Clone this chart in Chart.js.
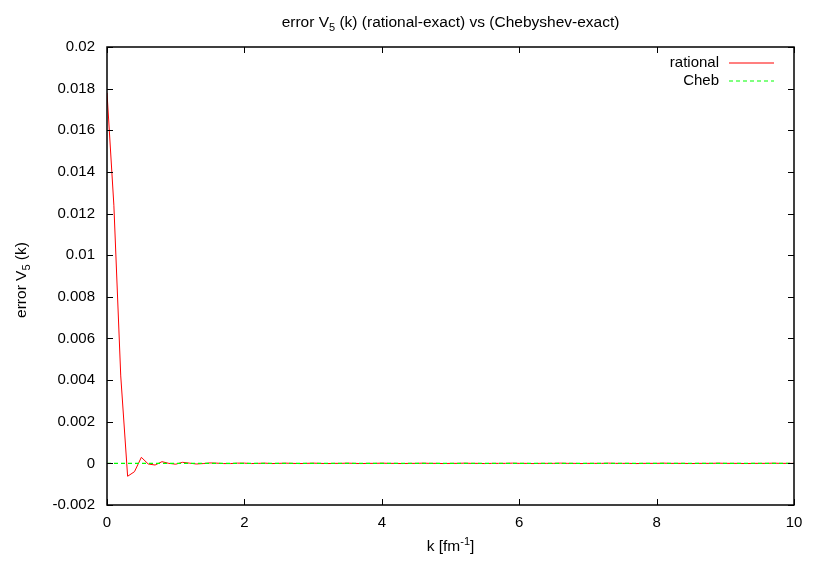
<!DOCTYPE html>
<html>
<head>
<meta charset="utf-8">
<title>error V5 (k)</title>
<script src="https://cdn.jsdelivr.net/npm/chart.js@4.4.1/dist/chart.umd.min.js"></script>
<style>
    html, body { margin: 0; padding: 0; background: #fff; }
    #wrap { width: 817px; height: 572px; position: relative; }
</style>
</head>
<body>
<div id="wrap"><canvas id="err-chart"></canvas></div>
<script>
// k grid of the rational curve (fm^-1)
const kValues = [
    0.0, 0.1, 0.2, 0.3, 0.4, 0.5, 0.6, 0.7, 0.8, 0.9,
    1.0, 1.1, 1.2, 1.3, 1.4, 1.5, 1.6, 1.7, 1.8, 1.9,
    2.0, 2.1, 2.2, 2.3, 2.4, 2.5, 2.6, 2.7, 2.8, 2.9,
    3.0, 3.1, 3.2, 3.3, 3.4, 3.5, 3.6, 3.7, 3.8, 3.9,
    4.0, 4.1, 4.2, 4.3, 4.4, 4.5, 4.6, 4.7, 4.8, 4.9,
    5.0, 5.1, 5.2, 5.3, 5.4, 5.5, 5.6, 5.7, 5.8, 5.9,
    6.0, 6.1, 6.2, 6.3, 6.4, 6.5, 6.6, 6.7, 6.8, 6.9,
    7.0, 7.1, 7.2, 7.3, 7.4, 7.5, 7.6, 7.7, 7.8, 7.9,
    8.0, 8.1, 8.2, 8.3, 8.4, 8.5, 8.6, 8.7, 8.8, 8.9,
    9.0, 9.1, 9.2, 9.3, 9.4, 9.5, 9.6, 9.7, 9.8, 9.9,
    10.0
];

// rational - exact
const rationalErr = [
    0.0178, 0.0124, 0.0042, -0.00062, -0.00040, 0.00029, -0.00003, -0.00008, 0.00008, 0.00000,
    -0.00004, 0.00005, 0.00001, -0.00003, -0.00001, 0.00002, 0.00001, -0.00001, -0.00001, 0.00001,
    0.00001, -0.00001, 0.00000, 0.00001, -0.00001, 0.00000, 0.00001, 0.00000, -0.00001, 0.00000,
    0.00001, 0.00000, -0.00001, 0.00000, 0.00000, 0.00001, 0.00000, -0.00001, 0.00000, 0.00000,
    0.00001, 0.00000, 0.00000, -0.00001, 0.00000, 0.00000, 0.00001, 0.00000, 0.00000, -0.00001,
    0.00000, 0.00000, 0.00001, 0.00000, 0.00000, -0.00001, 0.00000, 0.00000, 0.00000, 0.00001,
    0.00000, 0.00000, -0.00001, 0.00000, 0.00000, 0.00000, 0.00001, 0.00000, 0.00000, -0.00001,
    0.00000, 0.00000, 0.00000, 0.00001, 0.00000, 0.00000, 0.00000, -0.00001, 0.00000, 0.00000,
    0.00000, 0.00001, 0.00000, 0.00000, 0.00000, -0.00001, 0.00000, 0.00000, 0.00000, 0.00001,
    0.00000, 0.00000, 0.00000, -0.00001, 0.00000, 0.00000, 0.00000, 0.00001, 0.00000, 0.00000,
    0.00000
];

// Chebyshev - exact (flat at zero on this scale)
const chebK = [0.0, 0.5, 1.0, 1.5, 2.0, 2.5, 3.0, 3.5, 4.0, 4.5, 5.0,
               5.5, 6.0, 6.5, 7.0, 7.5, 8.0, 8.5, 9.0, 9.5, 10.0];
const chebErr = [0, 0, 0, 0, 0, 0, 0, 0, 0, 0, 0,
                 0, 0, 0, 0, 0, 0, 0, 0, 0, 0];

const xTicks = [0, 2, 4, 6, 8, 10];
const yTicks = [-0.002, 0, 0.002, 0.004, 0.006, 0.008, 0.01, 0.012, 0.014, 0.016, 0.018, 0.02];

const RED = '#ff0000';
const GREEN = '#00ff00';
const FONT = '"Liberation Sans", Arial, Helvetica, sans-serif';
const TEXT_SIZE = 15.5;

function toPoints(xs, ys) {
    return xs.map((x, i) => ({ x: x, y: ys[i] }));
}

// 画带上下标的文字
function partFont(p) {
    return (p.sub || p.sup ? 11 : TEXT_SIZE) + 'px ' + FONT;
}

function richWidth(ctx, parts) {
    let w = 0;
    parts.forEach(p => {
        ctx.font = partFont(p);
        w += ctx.measureText(p.t).width;
    });
    return w;
}

function drawRich(ctx, parts, cx, cy) {
    let x = cx - richWidth(ctx, parts) / 2;
    ctx.textAlign = 'left';
    ctx.textBaseline = 'middle';
    parts.forEach(p => {
        ctx.font = partFont(p);
        const dy = p.sub ? 5 : (p.sup ? -5 : 0);
        ctx.fillText(p.t, x, cy + dy);
        x += ctx.measureText(p.t).width;
    });
}

// 图例条目（gnuplot 风格：文字在左，线段在右）
const legendItems = [
    { label: 'rational', color: RED, dash: [] },
    { label: 'Cheb', color: GREEN, dash: [4, 3] }
];

// gnuplot 风格：边框、内刻度、图例、标题
const gnuplotFrame = {
    id: 'gnuplotFrame',
    afterDatasetsDraw(chart) {
        const { ctx, chartArea: a, scales } = chart;
        ctx.save();
        ctx.strokeStyle = '#000';
        ctx.lineWidth = 1;
        ctx.beginPath();
        scales.x.ticks.forEach(t => {
            const px = Math.round(scales.x.getPixelForValue(t.value)) + 0.5;
            ctx.moveTo(px, a.bottom); ctx.lineTo(px, a.bottom - 6);
            ctx.moveTo(px, a.top); ctx.lineTo(px, a.top + 6);
        });
        scales.y.ticks.forEach(t => {
            const py = Math.round(scales.y.getPixelForValue(t.value)) + 0.5;
            ctx.moveTo(a.left, py); ctx.lineTo(a.left + 6, py);
            ctx.moveTo(a.right, py); ctx.lineTo(a.right - 6, py);
        });
        ctx.stroke();
        ctx.lineWidth = 1.5;
        ctx.strokeRect(a.left, a.top, a.right - a.left, a.bottom - a.top);

        // legend
        ctx.textAlign = 'right';
        ctx.textBaseline = 'middle';
        legendItems.forEach((item, i) => {
            const ly = Math.round(a.top + 16 + i * 18);
            ctx.font = '15px ' + FONT;
            ctx.fillStyle = '#000';
            ctx.fillText(item.label, a.right - 75, ly);
            ctx.strokeStyle = item.color;
            ctx.lineWidth = 1.2;
            ctx.setLineDash(item.dash);
            ctx.beginPath();
            ctx.moveTo(a.right - 65, ly);
            ctx.lineTo(a.right - 20, ly);
            ctx.stroke();
            ctx.setLineDash([]);
        });

        // titles
        const mid = (a.left + a.right) / 2;
        ctx.fillStyle = '#000';
        drawRich(ctx, [{ t: 'error V' }, { t: '5', sub: true }, { t: ' (k) (rational-exact) vs (Chebyshev-exact)' }], mid, 23);
        drawRich(ctx, [{ t: 'k [fm' }, { t: '-1', sup: true }, { t: ']' }], mid, 547);
        ctx.save();
        ctx.translate(22, 280);
        ctx.rotate(-Math.PI / 2);
        drawRich(ctx, [{ t: 'error V' }, { t: '5', sub: true }, { t: ' (k)' }], 0, 0);
        ctx.restore();
        ctx.restore();
    }
};

function initChart() {
    const ctx = document.getElementById('err-chart');
    new Chart(ctx, {
        type: 'line',
        data: {
            datasets: [{
                label: 'Cheb',
                data: toPoints(chebK, chebErr),
                borderColor: GREEN,
                borderWidth: 1.2,
                borderDash: [4, 3],
                pointRadius: 0,
                tension: 0
            }, {
                label: 'rational',
                data: toPoints(kValues, rationalErr),
                borderColor: RED,
                borderWidth: 1,
                pointRadius: 0,
                tension: 0
            }]
        },
        options: {
            responsive: true,
            maintainAspectRatio: false,
            animation: false,
            layout: {
                padding: { top: 47, right: 23, left: 0, bottom: 0 }
            },
            plugins: {
                legend: { display: false },
                title: { display: false },
                tooltip: { enabled: false }
            },
            scales: {
                x: {
                    type: 'linear',
                    min: 0,
                    max: 10,
                    afterBuildTicks: s => { s.ticks = xTicks.map(v => ({ value: v })); },
                    afterFit: s => { s.height = 67; },
                    grid: { display: false, drawTicks: false },
                    border: { display: false },
                    ticks: {
                        padding: 9,
                        color: '#000',
                        font: { family: FONT, size: 15 },
                        maxRotation: 0,
                        callback: v => String(v)
                    }
                },
                y: {
                    type: 'linear',
                    min: -0.002,
                    max: 0.02,
                    afterBuildTicks: s => { s.ticks = yTicks.map(v => ({ value: v })); },
                    afterFit: s => { s.width = 107; },
                    grid: { display: false, drawTicks: false },
                    border: { display: false },
                    ticks: {
                        padding: 12,
                        color: '#000',
                        font: { family: FONT, size: 15 },
                        callback: v => String(parseFloat(Number(v).toFixed(4)))
                    }
                }
            }
        },
        plugins: [gnuplotFrame]
    });
}

initChart();
</script>
</body>
</html>
